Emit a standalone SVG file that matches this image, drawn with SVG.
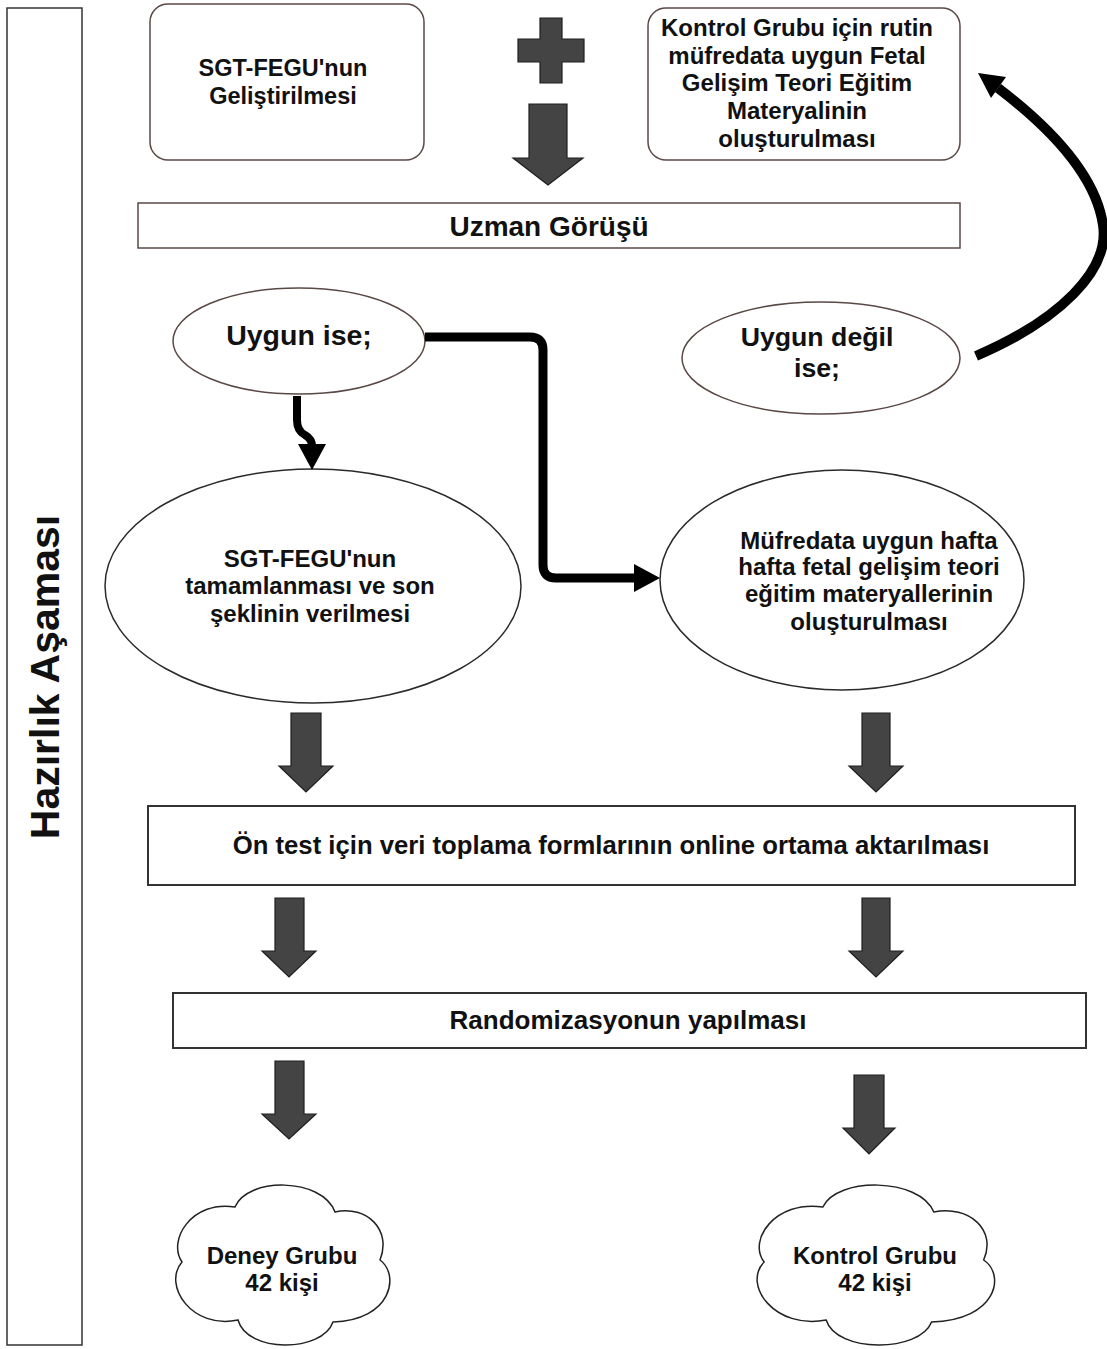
<svg xmlns="http://www.w3.org/2000/svg" width="1107" height="1349" viewBox="0 0 1107 1349">
<style>
text{font-family:"Liberation Sans",Arial,sans-serif;font-weight:bold;fill:#111;text-anchor:middle}
.brown{fill:#fff;stroke:#5a4845;stroke-width:1.5}
.dark{fill:#fff;stroke:#2a2a2a;stroke-width:1.5}
.box{fill:#fff;stroke:#333;stroke-width:2}
.blk{fill:#444;stroke:#1e1e1e;stroke-width:1.2}
.line{fill:none;stroke:#000;stroke-linejoin:round}
.t24{font-size:24px}
</style>
<rect width="1107" height="1349" fill="#fff"/>

<g id="phase">
<rect x="7" y="8" width="75" height="1337" fill="#fff" stroke="#333" stroke-width="1.5"/>
<text transform="translate(59,677) rotate(-90)" font-size="41">Hazırlık Aşaması</text>
</g>

<g id="sgt-dev">
<rect class="brown" x="150" y="4" width="274" height="156" rx="18"/>
<text font-size="23.5" x="283" y="76">SGT-FEGU'nun</text>
<text font-size="23.5" x="283" y="104">Geliştirilmesi</text>
</g>

<g id="plus">
<path class="blk" d="M540 18 H562 V39 H584 V62 H562 V83 H540 V62 H518 V39 H540 Z"/>
</g>

<g id="kontrol-materyal">
<rect class="brown" x="648" y="8" width="312" height="152" rx="18"/>
<text class="t24" x="797" y="35.5">Kontrol Grubu için rutin</text>
<text class="t24" x="797" y="63.5">müfredata uygun Fetal</text>
<text class="t24" x="797" y="90.5">Gelişim Teori Eğitim</text>
<text class="t24" x="797" y="118.5">Materyalinin</text>
<text class="t24" x="797" y="146.5">oluşturulması</text>
</g>

<g id="uzman">
<rect class="brown" x="138" y="203" width="822" height="45"/>
<text font-size="28" x="549" y="236">Uzman Görüşü</text>
</g>

<g id="uygun">
<ellipse class="brown" cx="299" cy="341" rx="126" ry="53"/>
<text font-size="28.5" x="299" y="345">Uygun ise;</text>
</g>

<g id="uygun-degil">
<ellipse class="brown" cx="821" cy="358" rx="139" ry="56"/>
<text font-size="26.7" x="817" y="346">Uygun değil</text>
<text font-size="26.7" x="817" y="377">ise;</text>
</g>

<g id="sgt-final">
<ellipse class="dark" cx="313" cy="586" rx="208" ry="117"/>
<text class="t24" x="310" y="566.5">SGT-FEGU'nun</text>
<text class="t24" x="310" y="593.5">tamamlanması ve son</text>
<text class="t24" x="310" y="621.5">şeklinin verilmesi</text>
</g>

<g id="mufredat">
<ellipse class="dark" cx="842" cy="580" rx="182" ry="110"/>
<text class="t24" x="869" y="548.5">Müfredata uygun hafta</text>
<text class="t24" x="869" y="574.5">hafta fetal gelişim teori</text>
<text class="t24" x="869" y="601.5">eğitim materyallerinin</text>
<text class="t24" x="869" y="629.5">oluşturulması</text>
</g>

<g id="ontest">
<rect class="box" x="148" y="806" width="927" height="79"/>
<text font-size="25.7" x="611" y="854">Ön test için veri toplama formlarının online ortama aktarılması</text>
</g>

<g id="random">
<rect class="box" x="173" y="993" width="913" height="55"/>
<text font-size="26" x="628" y="1029">Randomizasyonun yapılması</text>
</g>

<g id="deney">
<path d="M63 22 C75 -8,150 -8,163 27 C195 20,220 45,208 75 C228 90,220 135,161 137 C150 168,75 168,66 135 C20 145,-10 100,10 77 C-5 55,20 15,63 22 Z" transform="translate(172,1185)" fill="#fff" stroke="#222" stroke-width="1.5"/>
<text class="t24" x="282" y="1263.5">Deney Grubu</text>
<text class="t24" x="282" y="1290.5">42 kişi</text>
</g>

<g id="kontrol">
<path d="M63 22 C75 -8,150 -8,163 27 C195 20,220 45,208 75 C228 90,220 135,161 137 C150 168,75 168,66 135 C20 145,-10 100,10 77 C-5 55,20 15,63 22 Z" transform="translate(753,1185) scale(1.109,1)" fill="#fff" stroke="#222" stroke-width="1.5" vector-effect="non-scaling-stroke"/>
<text class="t24" x="875" y="1263.5">Kontrol Grubu</text>
<text class="t24" x="875" y="1290.5">42 kişi</text>
</g>

<g id="connectors">
<path class="blk" d="M529 104 H567 V158 H583 L548 185 L513 158 H529 Z"/>
<path class="blk" d="M291 713 H321 V766 H333 L306 792 L279 766 H291 Z"/>
<path class="blk" d="M862 713 H890 V766 H903 L876 792 L849 766 H862 Z"/>
<path class="blk" d="M275 898 H304 V951 H316 L289 977 L262 951 H275 Z"/>
<path class="blk" d="M862 898 H890 V951 H903 L876 977 L849 951 H862 Z"/>
<path class="blk" d="M275 1061 H304 V1114 H316 L289 1139 L262 1114 H275 Z"/>
<path class="blk" d="M854 1075 H884 V1128 H895 L869 1154 L843 1128 H854 Z"/>

<path class="line" stroke-width="8" d="M297 396 V420 Q297 431 305 435 Q312 439 312 446"/>
<path d="M298 444 H326 L312 470 Z" fill="#000"/>

<path class="line" stroke-width="9" d="M425 337 H530 Q543 337 543 350 V565 Q543 578 556 578 H636"/>
<path d="M634 564 L660 578 L634 592 Z" fill="#000"/>

<path class="line" stroke-width="10" d="M976 356 C1060 320,1110 270,1103 225 C1095 170,1040 120,998 88"/>
<path d="M978 73 L1006 77 L991 98 Z" fill="#000"/>
</g>
</svg>
